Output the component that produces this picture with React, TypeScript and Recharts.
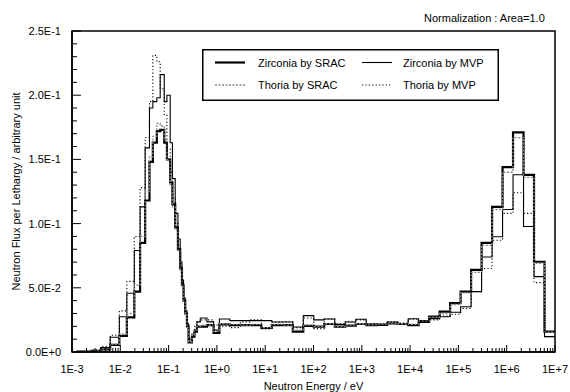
import React from 'react';
import { LineChart, Line, XAxis, YAxis, ReferenceArea, Legend } from 'recharts';

// group boundaries, eV (64 edges -> 63 groups)
const energyEdges = [
  0.00126, 0.00251, 0.00398, 0.00617, 0.00955, 0.01365, 0.0195, 0.0257, 0.0327, 0.0402,
  0.0472, 0.0571, 0.067, 0.0813, 0.0923, 0.108, 0.12, 0.137, 0.156, 0.174,
  0.189, 0.204, 0.221, 0.24, 0.259, 0.304, 0.344, 0.386, 0.453, 0.624,
  0.855, 1.125, 1.855, 3.059, 5.043, 8.315, 13.71, 22.6, 37.27, 61.44,
  101.3, 167.0, 275.4, 454.0, 748.5, 1234, 2035, 3355, 5531, 9119,
  15030, 24790, 40870, 67380, 111100, 183200, 302000, 497900, 821000, 1353000,
  2231000, 3679000, 6065000, 10000000,
];

// flux per lethargy in each group
const zrSrac = [
  0.0003, 0.0008, 0.002, 0.0055, 0.0125, 0.027, 0.047, 0.085, 0.118, 0.148,
  0.163, 0.172, 0.173, 0.163, 0.15, 0.132, 0.115, 0.097, 0.08, 0.065,
  0.052, 0.04, 0.03, 0.02, 0.0075, 0.012, 0.0158, 0.0197, 0.0197, 0.021,
  0.0148, 0.0215, 0.021, 0.021, 0.021, 0.0187, 0.021, 0.021, 0.0158, 0.0203,
  0.0197, 0.0218, 0.0197, 0.0205, 0.0218, 0.021, 0.0212, 0.0222, 0.0218, 0.021,
  0.0235, 0.0275, 0.0314, 0.038, 0.047, 0.064, 0.085, 0.113, 0.144, 0.171,
  0.138, 0.0703, 0.0158,
];
const zrMvp = [
  0.0004, 0.0012, 0.0035, 0.0115, 0.0275, 0.0457, 0.079, 0.113, 0.159, 0.19,
  0.195, 0.198, 0.216, 0.195, 0.2, 0.163, 0.135, 0.108, 0.088, 0.07,
  0.056, 0.042, 0.032, 0.022, 0.01, 0.013, 0.017, 0.0235, 0.0265, 0.0235,
  0.017, 0.0257, 0.0244, 0.0244, 0.0244, 0.0244, 0.0234, 0.0234, 0.0195, 0.0283,
  0.025, 0.0257, 0.0215, 0.0234, 0.0255, 0.0218, 0.0215, 0.0234, 0.0222, 0.0259,
  0.0245, 0.026, 0.0275, 0.031, 0.0353, 0.047, 0.074, 0.0898, 0.111, 0.138,
  0.0977, 0.0587, 0.012,
];
const thSrac = [
  0.0003, 0.0009, 0.0025, 0.006, 0.014, 0.03, 0.052, 0.09, 0.125, 0.152,
  0.168, 0.178, 0.176, 0.165, 0.15, 0.13, 0.113, 0.095, 0.079, 0.064,
  0.051, 0.039, 0.029, 0.019, 0.008, 0.013, 0.017, 0.02, 0.021, 0.021,
  0.016, 0.022, 0.0215, 0.021, 0.0215, 0.019, 0.0215, 0.021, 0.017, 0.021,
  0.02, 0.022, 0.02, 0.021, 0.022, 0.0212, 0.0215, 0.0225, 0.022, 0.0215,
  0.024, 0.027, 0.03, 0.037, 0.046, 0.062, 0.083, 0.111, 0.14, 0.167,
  0.136, 0.069, 0.0155,
];
const thMvp = [
  0.0005, 0.0015, 0.0045, 0.013, 0.032, 0.055, 0.09, 0.128, 0.167, 0.195,
  0.231, 0.226, 0.205, 0.185, 0.158, 0.14, 0.12, 0.1, 0.082, 0.066,
  0.052, 0.04, 0.03, 0.021, 0.011, 0.015, 0.02, 0.024, 0.025, 0.025,
  0.021, 0.02, 0.019, 0.0235, 0.025, 0.018, 0.0234, 0.0236, 0.019, 0.0265,
  0.0182, 0.0257, 0.022, 0.0236, 0.025, 0.0222, 0.0218, 0.0236, 0.0225, 0.0255,
  0.024, 0.025, 0.028, 0.0294, 0.034, 0.047, 0.065, 0.087, 0.108, 0.124,
  0.108, 0.054, 0.012,
];

const decadeTicks = [1e-3, 1e-2, 1e-1, 1, 10, 100, 1e3, 1e4, 1e5, 1e6, 1e7];
const decadeLabels = ['1E-3', '1E-2', '1E-1', '1E+0', '1E+1', '1E+2', '1E+3', '1E+4', '1E+5', '1E+6', '1E+7'];
const yMajorLabels = ['0.0E+0', '5.0E-2', '1.0E-1', '1.5E-1', '2.0E-1', '2.5E-1'];

const legendItems = [
  { name: 'Zirconia by SRAC', stroke: '#000', width: 2.2, dash: undefined },
  { name: 'Zirconia by MVP', stroke: '#000', width: 1.1, dash: undefined },
  { name: 'Thoria by SRAC', stroke: '#888', width: 1.3, dash: '2 1.5' },
  { name: 'Thoria by MVP', stroke: '#000', width: 1.1, dash: '1.2 2.2' },
];

const FONT = '"Liberation Sans", Arial, Helvetica, sans-serif';

const last = energyEdges.length - 2;
const rows = energyEdges.map((E, i) => {
  const k = Math.min(i, last);
  return { E, zrSrac: zrSrac[k], zrMvp: zrMvp[k], thSrac: thSrac[k], thMvp: thMvp[k] };
});

const xTicks: number[] = [];
decadeTicks.forEach((d, i) => {
  xTicks.push(d);
  if (i < decadeTicks.length - 1) for (let m = 2; m <= 9; m++) xTicks.push(m * d);
});
const yTicks: number[] = [];
for (let k = 0; k <= 25; k++) yTicks.push(k / 100);

const XTick = (props: any) => {
  const { x, y, payload } = props;
  const i = decadeTicks.indexOf(payload.value);
  const major = i >= 0;
  return (
    <g>
      <line x1={x} x2={x} y1={y} y2={y - (major ? 7 : 4)} stroke="#000" strokeWidth={1} />
      {major && (
        <text x={x} y={y + 21} textAnchor="middle" fontSize={11} fontFamily={FONT} fill="#000">
          {decadeLabels[i]}
        </text>
      )}
    </g>
  );
};

const YTick = (props: any) => {
  const { x, y, payload } = props;
  const k = Math.round(payload.value * 100);
  const major = k % 5 === 0;
  return (
    <g>
      <line x1={x} x2={x + (major ? 9 : 5)} y1={y} y2={y} stroke="#000" strokeWidth={1} />
      {major && (
        <text x={x - 11} y={y + 4} textAnchor="end" fontSize={11} fontFamily={FONT} fill="#000">
          {yMajorLabels[k / 5]}
        </text>
      )}
    </g>
  );
};

const LegendBox = () => (
  <svg width={297} height={53} style={{ display: 'block' }}>
    <rect x={0.75} y={0.75} width={295.5} height={50.5} fill="#fff" stroke="#000" strokeWidth={1.5} />
    {legendItems.map((it, i) => {
      const col = i % 2;
      const row = Math.floor(i / 2);
      const lx = col === 0 ? 13 : 160;
      const tx = col === 0 ? 56 : 201;
      const cy = row === 0 ? 13.5 : 36;
      return (
        <g key={it.name}>
          <line x1={lx} x2={lx + 30} y1={cy} y2={cy} stroke={it.stroke} strokeWidth={it.width} strokeDasharray={it.dash} />
          <text x={tx} y={cy + 4} fontSize={11} fontFamily={FONT} fill="#000">{it.name}</text>
        </g>
      );
    })}
  </svg>
);

export default function App() {
  return (
    <div style={{ position: 'absolute', left: 0, top: 0, width: 570, height: 392, background: '#fff', fontFamily: FONT }}>
      <div style={{ position: 'absolute', left: 424, top: 12, fontSize: 11, lineHeight: '13px', color: '#000', whiteSpace: 'nowrap' }}>
        Normalization : Area=1.0
      </div>
      <LineChart width={570} height={392} data={rows} margin={{ top: 31, right: 15, bottom: 0, left: 0 }}>
        <XAxis
          dataKey="E"
          type="number"
          scale="log"
          domain={[1e-3, 1e7]}
          allowDataOverflow
          ticks={xTicks}
          interval={0}
          tick={XTick}
          tickLine={false}
          tickSize={0}
          tickMargin={0}
          height={40}
          axisLine={{ stroke: '#000', strokeWidth: 1.5 }}
          label={{
            content: (p: any) => {
              const vb = p.viewBox || { x: 72, y: 352, width: 483, height: 40 };
              return (
                <text x={vb.x + vb.width / 2} y={vb.y + vb.height - 2} textAnchor="middle" fontSize={11} fontFamily={FONT} fill="#000">
                  Neutron Energy / eV
                </text>
              );
            },
          }}
        />
        <YAxis
          type="number"
          domain={[0, 0.25]}
          allowDataOverflow
          ticks={yTicks}
          interval={0}
          tick={YTick}
          tickLine={false}
          tickSize={0}
          tickMargin={0}
          width={72}
          axisLine={{ stroke: '#000', strokeWidth: 1.5 }}
          label={{
            content: (p: any) => {
              const vb = p.viewBox || { x: 0, y: 31, width: 72, height: 321 };
              const cx = vb.x + 20;
              const cy = vb.y + vb.height / 2;
              return (
                <text x={cx} y={cy} transform={`rotate(-90 ${cx} ${cy})`} textAnchor="middle" fontSize={11} fontFamily={FONT} fill="#000">
                  Neutron Flux per Lethargy / arbitrary unit
                </text>
              );
            },
          }}
        />
        <ReferenceArea x1={1e-3} x2={1e7} y1={0} y2={0.25} fill="none" stroke="#000" strokeWidth={1.5} ifOverflow="visible" />
        <Line dataKey="zrSrac" name="Zirconia by SRAC" type="stepAfter" stroke="#000" strokeWidth={2.2} dot={false} isAnimationActive={false} />
        <Line dataKey="zrMvp" name="Zirconia by MVP" type="stepAfter" stroke="#000" strokeWidth={1.1} dot={false} isAnimationActive={false} />
        <Line dataKey="thSrac" name="Thoria by SRAC" type="stepAfter" stroke="#888" strokeWidth={1.3} strokeDasharray="2 1.5" dot={false} isAnimationActive={false} />
        <Line dataKey="thMvp" name="Thoria by MVP" type="stepAfter" stroke="#000" strokeWidth={1.1} strokeDasharray="1.2 2.2" dot={false} isAnimationActive={false} />
        <Legend
          content={LegendBox}
          layout="horizontal"
          verticalAlign="middle"
          align="center"
          wrapperStyle={{ left: 202, top: 49, width: 297, height: 53 }}
        />
      </LineChart>
    </div>
  );
}
